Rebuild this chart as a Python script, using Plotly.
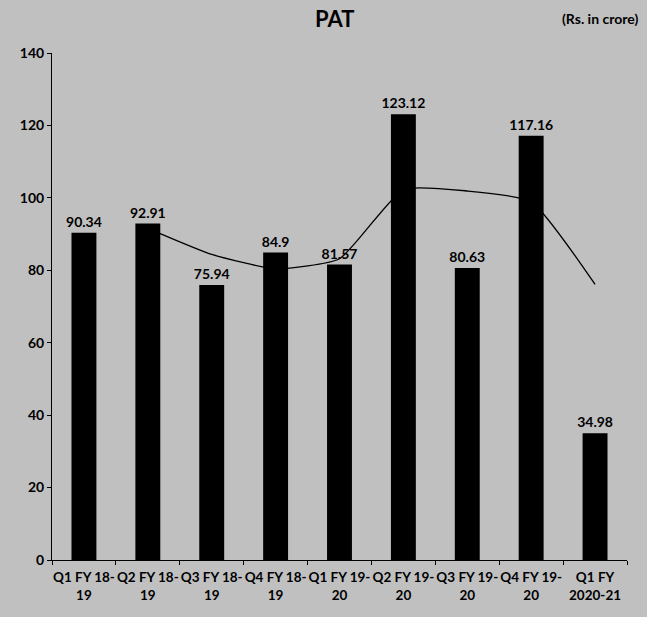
import plotly.graph_objects as go

categories = ["Q1 FY 18-<br>19", "Q2 FY 18-<br>19", "Q3 FY 18-<br>19", "Q4 FY 18-<br>19",
              "Q1 FY 19-<br>20", "Q2 FY 19-<br>20", "Q3 FY 19-<br>20", "Q4 FY 19-<br>20",
              "Q1 FY<br>2020-21"]
pat_values = [90.34, 92.91, 75.94, 84.9, 81.57, 123.12, 80.63, 117.16, 34.98]
pat_labels = ["90.34", "92.91", "75.94", "84.9", "81.57", "123.12", "80.63", "117.16", "34.98"]
trend_categories = categories[1:]
trend_values = [91.6, 84.4, 80.4, 83.2, 102.3, 101.9, 98.9, 76.1]
y_ticks = [0, 20, 40, 60, 80, 100, 120, 140]

FONT = "Lato"
BG = "#c0c0c0"

fig = go.Figure()
fig.add_trace(go.Bar(
    x=categories, y=pat_values, width=0.39,
    marker=dict(color="black", line=dict(width=0)),
    text=pat_labels, textposition="outside", cliponaxis=False, constraintext="none",
    textfont=dict(family=FONT, size=14, color="black", weight="bold"),
    showlegend=False,
))
fig.add_trace(go.Scatter(
    x=trend_categories, y=trend_values, mode="lines",
    line=dict(color="black", width=1.3, shape="spline", smoothing=0.5),
    showlegend=False, hoverinfo="skip",
))

fig.update_layout(
    width=647, height=617,
    margin=dict(l=52, r=20, t=53, b=57),
    paper_bgcolor=BG, plot_bgcolor=BG,
    font=dict(family=FONT, size=14, color="black"),
    xaxis=dict(
        type="category", showline=True, linecolor="black", linewidth=1,
        ticks="outside", ticklen=4, tickcolor="black", tickson="boundaries",
        tickangle=0, ticklabelstandoff=5,
        tickfont=dict(family=FONT, size=13.5, color="black", weight="bold"),
        showgrid=False, zeroline=False,
    ),
    yaxis=dict(
        range=[0, 140], tickvals=y_ticks, showline=True, linecolor="black", linewidth=1,
        ticks="outside", ticklen=4, tickcolor="black",
        tickfont=dict(family=FONT, size=14, color="black", weight="bold"),
        showgrid=False, zeroline=False,
    ),
    annotations=[
        dict(text="<b>PAT</b>", x=0.492, y=1.069, xref="paper", yref="paper",
             showarrow=False, font=dict(family=FONT, size=22, color="black"),
             xanchor="center", yanchor="middle"),
        dict(text="<b>(Rs. in crore)</b>", x=1.023, y=1.069, xref="paper", yref="paper",
             showarrow=False, font=dict(family=FONT, size=14, color="black"),
             xanchor="right", yanchor="middle"),
    ],
)

fig.write_html("out.html", config={"displayModeBar": False},
               post_script="document.body.style.margin='0';document.body.style.overflow='hidden';")
